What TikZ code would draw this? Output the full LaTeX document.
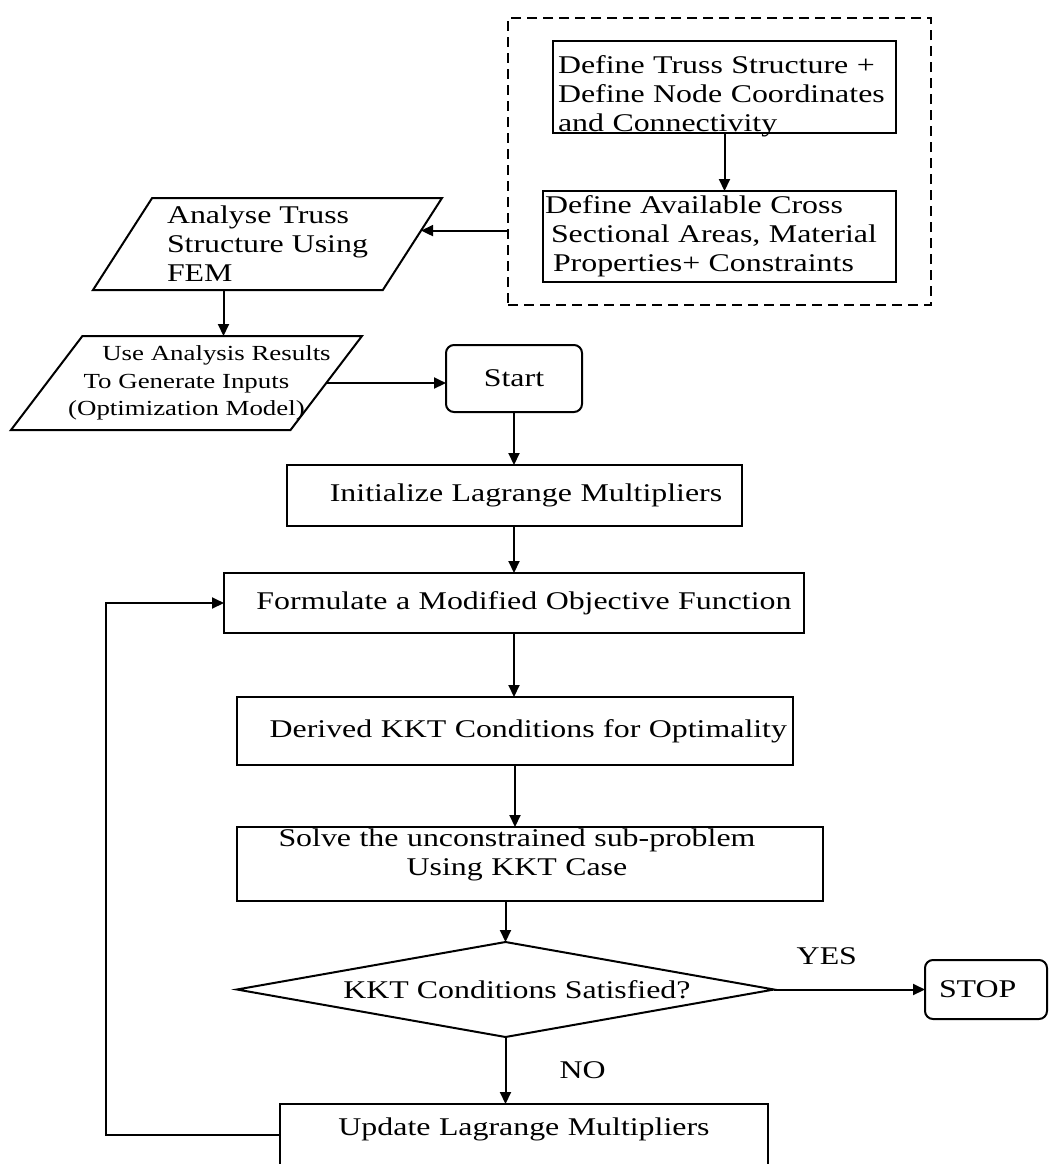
\documentclass[tikz,border=0pt]{standalone}
\usepackage{fontspec}
\setmainfont{Liberation Serif}[FakeStretch=1.25]
\usepackage{tikz}
\usetikzlibrary{arrows.meta,fit,positioning,shapes.geometric}
\tikzset{
  node distance=0mm,
  >={Triangle[length=6pt,width=5.5pt]},
  every node/.style={outer sep=0mm,inner sep=0mm,anchor=north,
    font=\fontsize{12.75pt}{14.5pt}\selectfont}
}
\tikzset{field/.style={
    draw,
    text width=#1,
    minimum height=30pt,
    align=center
  },
  field/.default=6cm}
\tikzset{inout/.style={
    draw,
    trapezium,
    trapezium left angle=52,
    trapezium right angle=128,
    trapezium stretches body,
    align=left
  }}
\tikzset{terminal/.style={
    draw,
    rounded corners=4pt,
    minimum width=#1,
    minimum height=30pt
  },
  terminal/.default=2cm}
\tikzset{decision/.style={
    draw,
    diamond,
    aspect=5.6,
    minimum width=268.5pt,
    minimum height=47.5pt
  }}

\begin{document}
\begin{tikzpicture}[line width=1pt]
  \path [use as bounding box,clip] (0,0) rectangle (525.5pt,-582pt);

  \node (Truss) [field=166.5pt,inner xsep=2.5pt,minimum height=46pt,text depth=22.7pt,align=left] at (362.25pt,-20.5pt)
    {Define Truss Structure +\\Define Node Coordinates\\and Connectivity};
  \node (Areas) [field=174.5pt,inner xsep=1pt,minimum height=45.5pt,align=left,below=29pt of Truss.south,xshift=-2.5pt]
    {Define Available Cross\\\hspace*{3pt}Sectional Areas, Material\\\hspace*{4pt}Properties+ Constraints};
  \node (Group) [draw,dashed,dash pattern=on 5pt off 3pt,inner xsep=17.5pt,inner ysep=11.5pt,fit=(Truss)(Areas),anchor=center] {};

  \node (Analyse) [inout,minimum width=174.5pt,minimum height=46pt] at (133.75pt,-99pt)
    {Analyse Truss\\Structure Using\\FEM};
  \node (Results) [inout,trapezium left angle=46.2,trapezium right angle=133.8,inner xsep=-25pt,minimum width=175.5pt,minimum height=47pt,align=center,
    font=\fontsize{10.75pt}{13.75pt}\selectfont] at (93.25pt,-168pt)
    {\hspace*{30pt}Use Analysis Results\\To Generate Inputs\\(Optimization Model)};

  \node (Start)     [terminal=68pt,minimum height=33.5pt] at (257pt,-172.5pt) {Start};
  \node (Init)      [field=227.5pt,minimum height=30.5pt,below=26.5pt of Start.south] {\hspace*{12pt}Initialize Lagrange Multipliers};
  \node (Formulate) [field=290pt,below=23.5pt of Init.south] {\hspace*{10pt}Formulate a Modified Objective Function};
  \node (Derived)   [field=272pt,inner xsep=3pt,minimum height=34pt,align=right,below=32pt of Formulate.south,xshift=0.5pt] {Derived KKT Conditions for Optimality};
  \node (Solve)     [field=293pt,minimum height=37pt,text depth=26.3pt,below=31pt of Derived.south,xshift=7.5pt]
    {\hspace*{-13pt}Solve the unconstrained sub-problem\\\hspace*{-13pt}Using KKT Case};
  \node (Decide)    [decision,below=20.5pt of Solve.south,xshift=-12.25pt] {\hspace*{11.5pt}KKT Conditions Satisfied?};
  \node (Stop)      [terminal=61pt,text width=47pt,inner xsep=7pt,align=left,minimum height=29.5pt,right=75.5pt of Decide.east] {STOP};
  \node (Update)    [field=244pt,text height=15.5pt,text depth=30pt,below=33.5pt of Decide.south,xshift=9.25pt] {Update Lagrange Multipliers};

  \draw [->] (Truss.south) -- (Truss.south|-Areas.north);
  \draw [->] (Group.west|-Analyse.5) -- (Analyse.5);
  \draw [->] ([xshift=-22pt] Analyse.south) -- ([xshift=-22pt] Analyse.south|-Results.north);
  \draw [->] (Results.east) -- (Results.east-|Start.west);

  \draw [->] (Start) -- (Init);
  \draw [->] (Init) -- (Formulate);
  \draw [->] (Formulate.south) -- (Formulate.south|-Derived.north);
  \draw [->] (Derived.south) -- (Derived.south|-Solve.north);
  \draw [->] (Decide.north|-Solve.south) -- (Decide.north);
  \draw [->] (Decide.east) -- node [pos=0.35,above=12.5pt] {YES} (Decide.east-|Stop.west);
  \draw [->] (Decide.south) -- node [right=27pt] {NO} (Decide.south|-Update.north);

  \draw [->] (Update.base west) -| ([xshift=-59pt] Formulate.west) -- (Formulate.west);
\end{tikzpicture}
\end{document}
